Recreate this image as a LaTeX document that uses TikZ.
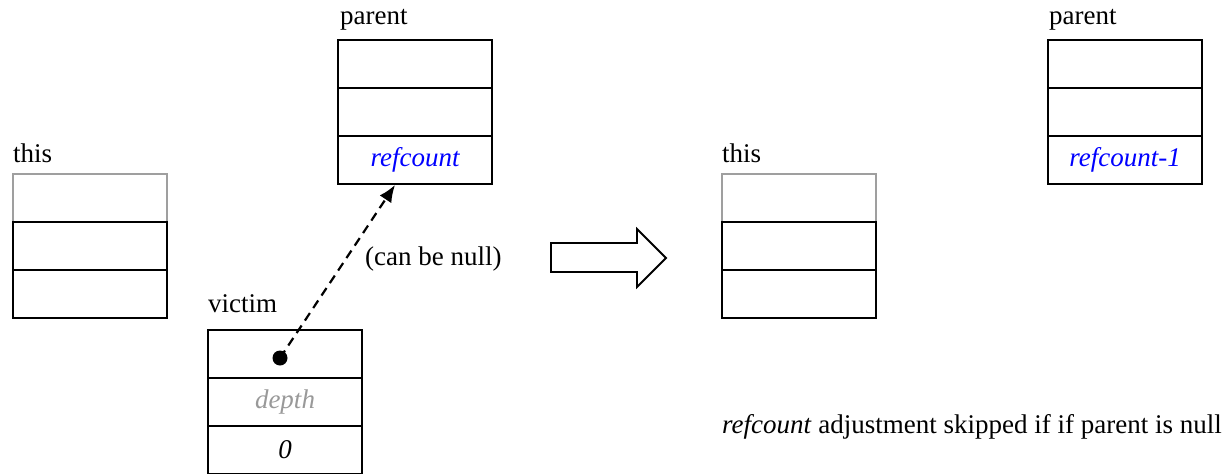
\documentclass[tikz,border=0pt]{standalone}
\usepackage{fontspec}
\setmainfont{Liberation Serif}
\usetikzlibrary{positioning}
\usetikzlibrary{arrows.meta}
\tikzset{
  cell/.style={draw, line width=1.8pt, minimum width=154pt, minimum height=48pt, inner sep=0pt, outer sep=0pt},
  oldcell/.style={cell, draw=gray!75},
  lbl/.style={anchor=base west, inner sep=0pt},
}
\begin{document}
\begin{tikzpicture}[x=1pt, y=-1pt, font=\fontsize{27}{32}\selectfont]
      \useasboundingbox (0,0) rectangle (1232,474);
      % before: this
      \node[lbl] (thislbl) at (13,162) {this};
      \node[oldcell, anchor=north west] (thisa) at (13,174) {};
      \node[cell, below=0pt of thisa] (thisb) {};
      \node[cell, below=0pt of thisb] (thisc) {};
      % before: parent
      \node[lbl] (parlbl) at (340,24) {parent};
      \node[cell, anchor=north west] (para) at (338,40) {};
      \node[cell, below=0pt of para] (parb) {};
      \node[cell, below=0pt of parb, text=blue] (parc) {\itshape refcount};
      % before: victim
      \node[lbl] (viclbl) at (208,312) {victim};
      \node[cell, anchor=north west] (vica) at (208,330) {};
      \node[cell, below=0pt of vica, text=gray!80] (vicb) {\itshape depth};
      \node[cell, below=0pt of vicb] (vicc) {\itshape 0};
      \node[circle, fill, minimum size=15pt, inner sep=0pt] (ptr) at (280,358) {};
      \coordinate (ptrend) at (395,185);
      \draw[dashed, dash pattern=on 9pt off 6pt, line width=2.2pt, -{Latex[length=17pt,width=14pt]}] (ptr.center) -- (ptrend);
      \node[lbl] (nullnote) at (365,265) {(can be null)};
      % big arrow
      \draw[line width=1.8pt] (551,243) -- (637,243) -- (637,229) -- (666,258) -- (637,287) -- (637,272) -- (551,272) -- cycle;
      % after: this
      \node[lbl] (thislbl2) at (722,162) {this};
      \node[oldcell, anchor=north west] (thisa2) at (722,174) {};
      \node[cell, below=0pt of thisa2] (thisb2) {};
      \node[cell, below=0pt of thisb2] (thisc2) {};
      % after: parent
      \node[lbl] (parlbl2) at (1049,24) {parent};
      \node[cell, anchor=north west] (para2) at (1048,40) {};
      \node[cell, below=0pt of para2] (parb2) {};
      \node[cell, below=0pt of parb2, text=blue] (parc2) {\itshape refcount-1};
      \node[lbl] (skipnote) at (722,433) {\textit{refcount} adjustment skipped if if parent is null};
    \end{tikzpicture}
\end{document}
